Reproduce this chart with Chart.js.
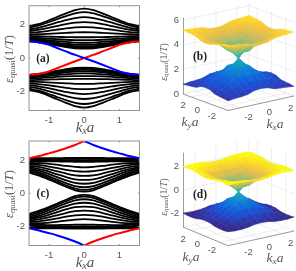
<!DOCTYPE html>
<html>
<head>
<meta charset="utf-8">
<script src="https://cdn.jsdelivr.net/npm/chart.js@4"></script>
<style>
  html, body { margin:0; padding:0; background:#fff; }
  body { width:296px; height:271px; position:relative; overflow:hidden; }
  .pane { position:absolute; }
  canvas { filter:blur(0.3px); }
  .t { position:absolute; color:#555; font-family:"Liberation Serif",serif; white-space:nowrap; transform:translate(-50%,-50%); line-height:1; }
  .t i { font-style:italic; }
  .t sub { font-size:68%; vertical-align:baseline; position:relative; top:0.2em; }
  .r { transform:translate(-50%,-50%) rotate(-90deg); }
  .tag { color:#222; font-weight:bold; font-size:11.5px; }
</style>
</head>
<body>
<div class="pane" style="left:0;top:0;width:148px;height:135px"><canvas id="a"></canvas></div>
<div class="pane" style="left:148px;top:0;width:148px;height:135px"><canvas id="b"></canvas></div>
<div class="pane" style="left:0;top:135px;width:148px;height:136px"><canvas id="c"></canvas></div>
<div class="pane" style="left:148px;top:135px;width:148px;height:136px"><canvas id="d"></canvas></div>

<div class="t r" style="left:9px;top:59px;font-size:12.5px"><i>ε</i><sub>quasi</sub>(1/<i>T</i>)</div>
<div class="t r" style="left:9px;top:194px;font-size:12.5px"><i>ε</i><sub>quasi</sub>(1/<i>T</i>)</div>
<div class="t r" style="left:164px;top:62px;font-size:9.8px"><i>ε</i><sub>quasi</sub>(1/<i>T</i>)</div>
<div class="t r" style="left:164px;top:197px;font-size:9.8px"><i>ε</i><sub>quasi</sub>(1/<i>T</i>)</div>
<div class="t" style="left:85px;top:127px;font-size:15px"><i>k<sub>x</sub>a</i></div>
<div class="t" style="left:85px;top:262px;font-size:15px"><i>k<sub>x</sub>a</i></div>
<div class="t" style="left:190px;top:122px;font-size:13.5px"><i>k<sub>y</sub>a</i></div>
<div class="t" style="left:275px;top:124px;font-size:13.5px"><i>k<sub>x</sub>a</i></div>
<div class="t" style="left:191px;top:257px;font-size:13.5px"><i>k<sub>y</sub>a</i></div>
<div class="t" style="left:275px;top:258px;font-size:13.5px"><i>k<sub>x</sub>a</i></div>
<div class="t tag" style="left:43px;top:59px">(a)</div>
<div class="t tag" style="left:200px;top:57px">(b)</div>
<div class="t tag" style="left:43px;top:194px">(c)</div>
<div class="t tag" style="left:200px;top:195px">(d)</div>

<script>
// ── Data ──
const kHalf = [0, 0.26, 0.52, 0.79, 1.05, 1.31, 1.57];

// upper half of the spectrum, lower half is its mirror
const bandsA = [
  [2.97, 2.88, 2.68, 2.45, 2.22, 2.03, 1.92],
  [2.75, 2.68, 2.52, 2.32, 2.12, 1.94, 1.82],
  [2.45, 2.40, 2.28, 2.12, 1.96, 1.81, 1.72],
  [2.16, 2.12, 2.03, 1.91, 1.79, 1.69, 1.62],
  [1.86, 1.84, 1.78, 1.70, 1.62, 1.56, 1.52],
  [1.55, 1.54, 1.51, 1.48, 1.45, 1.43, 1.42],
  [1.25, 1.25, 1.26, 1.27, 1.29, 1.31, 1.33],
  [1.08, 1.08, 1.10, 1.13, 1.17, 1.21, 1.25],
  [0.92, 0.93, 0.97, 1.02, 1.08, 1.13, 1.18],
  [0.80, 0.81, 0.86, 0.93, 1.01, 1.07, 1.12],
  [0.70, 0.72, 0.78, 0.86, 0.95, 1.02, 1.07],
  [0.62, 0.64, 0.71, 0.80, 0.90, 0.98, 1.03],
  [0.57, 0.59, 0.66, 0.76, 0.87, 0.95, 1.00],
];
const bandsC = [
  [2.13, 2.13, 2.12, 2.11, 2.11, 2.11, 2.10],
  [2.06, 2.06, 2.06, 2.05, 2.05, 2.04, 2.03],
  [1.98, 1.99, 1.99, 1.99, 1.98, 1.97, 1.96],
  [1.88, 1.89, 1.90, 1.91, 1.91, 1.90, 1.89],
  [1.55, 1.58, 1.64, 1.72, 1.78, 1.81, 1.81],
  [1.30, 1.33, 1.41, 1.52, 1.62, 1.70, 1.73],
  [1.05, 1.08, 1.19, 1.33, 1.47, 1.58, 1.65],
  [0.80, 0.84, 0.97, 1.15, 1.33, 1.47, 1.57],
  [0.57, 0.62, 0.78, 0.98, 1.19, 1.37, 1.49],
  [0.36, 0.43, 0.61, 0.83, 1.06, 1.27, 1.41],
  [0.20, 0.28, 0.48, 0.71, 0.95, 1.17, 1.33],
  [0.10, 0.18, 0.39, 0.63, 0.86, 1.07, 1.24],
];
// edge states, from k=0 outwards
const edgeA = [0, 0.19, 0.40, 0.62, 0.83, 0.95, 1.00];
const edgeC = [3.14, 2.90, 2.70, 2.52, 2.37, 2.22, 2.10];

const kxTicks = [-1, 0, 1];
const eTicks = [-2, 0, 2];

// surface height above the Dirac point, quarter of the zone (|kx| steps by |ky| steps)
const kStep = [0, 0.63, 1.26, 1.88, 2.51, 3.14];
const surfB = [
  [0.00, 0.60, 1.10, 1.45, 1.70, 1.80],
  [0.60, 0.62, 1.12, 1.48, 1.75, 1.85],
  [1.10, 1.12, 1.18, 1.52, 1.85, 2.05],
  [1.45, 1.48, 1.52, 1.62, 1.95, 2.12],
  [1.70, 1.75, 1.85, 1.95, 2.02, 2.15],
  [1.80, 1.85, 2.05, 2.12, 2.15, 2.22],
];
const surfD = [
  [0.00, 0.58, 1.05, 1.42, 1.72, 1.85],
  [0.58, 0.62, 1.08, 1.45, 1.75, 1.88],
  [1.05, 1.08, 1.15, 1.50, 1.85, 2.00],
  [1.42, 1.45, 1.50, 1.62, 1.92, 2.05],
  [1.72, 1.75, 1.85, 1.92, 2.00, 2.05],
  [1.85, 1.88, 2.00, 2.05, 2.05, 2.00],
];
const zTicksB = [0, 2, 4, 6];
const zTicksD = [-2, 0, 2];
const kTicks3d = [-2, 0, 2];

const parula = ['#352a87','#2a3fc4','#0f5cdd','#1481d6','#06a4ca','#2eb7a4','#87bf77','#d1bb59','#fec832','#f9fb0e'];

const TICK_FONT = { family:"'Liberation Sans'", size:9.5 };
const TICK_COLOR = '#555';
const FRAME = '#959595';
const GRID3D = '#e6e6e6';

// the chart area has to sit exactly where the frame is, so no auto padding from labels
const noMargins = s => { s.paddingTop = 0; s.paddingBottom = 0; s.paddingLeft = 0; s.paddingRight = 0; };

// ── 2D band panels ──
const kFull = [...kHalf.slice(1).reverse().map(k => -k), ...kHalf];
const evenRow = row => [...row.slice(1).reverse(), ...row];
const oddRow = row => [...row.slice(1).reverse().map(v => -v), ...row];

function curve(values, color, width) {
  return {
    data: kFull.map((x, i) => ({ x, y: values[i] })),
    borderColor: color, borderWidth: width, pointRadius: 0, showLine: true, fill: false, tension: 0.25,
  };
}

// MATLAB style box with ticks pointing inwards
const frameBox = {
  id: 'frameBox',
  afterDraw(chart) {
    const { ctx, chartArea: a, scales: { x, y } } = chart;
    ctx.save();
    ctx.strokeStyle = FRAME;
    ctx.lineWidth = 1;
    ctx.strokeRect(a.left, a.top, a.right - a.left, a.bottom - a.top);
    ctx.beginPath();
    kxTicks.forEach(t => {
      const p = x.getPixelForValue(t);
      ctx.moveTo(p, a.top); ctx.lineTo(p, a.top + 1.5);
      ctx.moveTo(p, a.bottom); ctx.lineTo(p, a.bottom - 1.5);
    });
    eTicks.forEach(t => {
      const p = y.getPixelForValue(t);
      ctx.moveTo(a.left, p); ctx.lineTo(a.left + 1.5, p);
      ctx.moveTo(a.right, p); ctx.lineTo(a.right - 1.5, p);
    });
    ctx.stroke();
    ctx.restore();
  }
};

function buildBands(id, datasets, top, bottom) {
  new Chart(document.getElementById(id), {
    type: 'scatter',
    data: { datasets },
    plugins: [frameBox],
    options: {
      animation: false, responsive: true, maintainAspectRatio: false,
      layout: { padding: { top, right: 8.5, left: 0, bottom: 0 } },
      plugins: { legend: { display: false }, tooltip: { enabled: false } },
      scales: {
        x: {
          type: 'linear', min: -1.57, max: 1.57,
          grid: { display: false, drawTicks: false }, border: { display: false },
          afterBuildTicks: s => { s.ticks = kxTicks.map(value => ({ value })); },
          afterFit: s => { s.height = bottom; noMargins(s); },
          ticks: { color: TICK_COLOR, font: TICK_FONT, padding: 4, maxRotation: 0 },
        },
        y: {
          min: -3.14, max: 3.14,
          grid: { display: false, drawTicks: false }, border: { display: false },
          afterBuildTicks: s => { s.ticks = eTicks.map(value => ({ value })); },
          afterFit: s => { s.width = 29; noMargins(s); },
          ticks: { color: TICK_COLOR, font: TICK_FONT, padding: 4 },
        },
      },
    },
  });
}

const flipBands = bands => bands.map(b => b.map(v => -v));
const blackLines = bands => bands.map(b => curve(evenRow(b), '#000', 1.8));

buildBands('a', [
  curve(oddRow(edgeA).map(v => -v), '#0000ff', 2),
  curve(oddRow(edgeA), '#ff0000', 2),
  ...blackLines(bandsA), ...blackLines(flipBands(bandsA)),
], 5.7, 24.5);

const colorArc = (vals, color, sideLeft) => ({
  data: kHalf.map((k, i) => ({ x: sideLeft ? -k : k, y: vals[i] })),
  borderColor: color, borderWidth: 2, pointRadius: 0, showLine: true, fill: false, tension: 0.25,
});
buildBands('c', [
  colorArc(edgeC, '#ff0000', true), colorArc(edgeC, '#0000ff', false),
  colorArc(edgeC.map(v => -v), '#0000ff', true), colorArc(edgeC.map(v => -v), '#ff0000', false),
  ...blackLines(bandsC), ...blackLines(flipBands(bandsC)),
], 6, 25.5);

// ── 3D surface panels, Chart.js scatter polygons on a flat projection ──
function hexRgb(h) { return [1, 3, 5].map(i => parseInt(h.slice(i, i + 2), 16)); }
function colormap(t) {
  const f = Math.min(0.9999, Math.max(0, t)) * (parula.length - 1);
  const i = Math.floor(f), c0 = hexRgb(parula[i]), c1 = hexRgb(parula[i + 1]);
  return `rgb(${c0.map((c, n) => Math.round(c + (c1[n] - c) * (f - i))).join(',')})`;
}

function buildSurface(id, surf, view) {
  const { left, front, right, zPx, zFloor, z0, zTop, zLow, zHigh, zTicks, height } = view;
  const K = 3.14;
  // x in pane pixels, y in z units shifted for the floor position
  const project = (kx, ky, z) => {
    const u = (kx + K) / (2 * K), v = (ky + K) / (2 * K);
    return {
      x: front[0] + u * (right[0] - front[0]) + v * (left[0] - front[0]),
      y: z + (front[1] - (front[1] + u * (right[1] - front[1]) + v * (left[1] - front[1]))) / zPx,
    };
  };
  const line = (pts, color, w) => ({
    data: pts, borderColor: color, borderWidth: w, pointRadius: 0, showLine: true, fill: false, tension: 0,
  });

  const back = [];
  zTicks.forEach(z => {
    back.push(line([project(-K, K, z), project(K, K, z), project(K, -K, z)], GRID3D, 0.7));
  });
  kTicks3d.forEach(t => {
    back.push(line([project(t, -K, zFloor), project(t, K, zFloor), project(t, K, zTop)], GRID3D, 0.7));
    back.push(line([project(-K, t, zFloor), project(K, t, zFloor), project(K, t, zTop)], GRID3D, 0.7));
  });
  back.push(line([project(-K, K, zFloor), project(K, K, zFloor), project(K, -K, zFloor)], GRID3D, 0.7));
  back.push(line([project(K, K, zFloor), project(K, K, zTop)], GRID3D, 0.7));
  const edges = [
    line([project(-K, K, zTop), project(-K, K, zFloor), project(-K, -K, zFloor), project(K, -K, zFloor)], '#8c8c8c', 0.9),
  ];

  const zone = [...kStep.slice(1).reverse().map(k => -k), ...kStep];
  const height3d = (i, j) => surf[Math.abs(i - 5)][Math.abs(j - 5)];

  const sheet = sign => {
    const quads = [];
    for (let i = 0; i < 10; i++) for (let j = 0; j < 10; j++) {
      const corners = [[i, j], [i + 1, j], [i + 1, j + 1], [i, j + 1]].map(([a, b]) => ({
        p: project(zone[a], zone[b], z0 + sign * height3d(a, b)),
        z: z0 + sign * height3d(a, b),
      }));
      const lo = corners.reduce((m, c) => (c.z < m.z ? c : m));
      const hi = corners.reduce((m, c) => (c.z > m.z ? c : m));
      const paint = c => {
        const { x, y } = c.chart.scales;
        const x0 = x.getPixelForValue(lo.p.x), y0 = y.getPixelForValue(lo.p.y);
        const x1 = x.getPixelForValue(hi.p.x), y1 = y.getPixelForValue(hi.p.y);
        if (![x0, y0, x1, y1].every(Number.isFinite)) return colormap(0.5);
        const g = c.chart.ctx.createLinearGradient(x0, y0, x1, y1);
        g.addColorStop(0, colormap((lo.z - zLow) / (zHigh - zLow)));
        g.addColorStop(1, colormap((hi.z - zLow) / (zHigh - zLow)));
        return g;
      };
      quads.push({
        depth: zone[i] + zone[j],
        data: [...corners.map(c => c.p), corners[0].p],
        backgroundColor: paint, borderColor: paint, borderWidth: 0.6,
        pointRadius: 0, showLine: true, fill: 'shape', tension: 0,
      });
    }
    // first dataset is painted last, so nearest quads go first
    return quads.sort((m, n) => m.depth - n.depth);
  };

  const kLabels = {
    id: 'kLabels',
    afterDraw(chart) {
      const { ctx, scales: { x, y } } = chart;
      ctx.save();
      ctx.font = "9.5px 'Liberation Sans'";
      ctx.fillStyle = TICK_COLOR;
      ctx.textAlign = 'center';
      ctx.textBaseline = 'middle';
      kTicks3d.forEach(t => {
        const p = project(t, -K, zFloor), q = project(-K, t, zFloor);
        ctx.fillText(String(t), x.getPixelForValue(p.x) + 8.5, y.getPixelForValue(p.y) + 9.5);
        ctx.fillText(String(t), x.getPixelForValue(q.x) - 8, y.getPixelForValue(q.y) + 8.5);
      });
      ctx.restore();
    }
  };

  // the z axis stands on the left floor corner, not on the front one
  const zShift = (front[1] - left[1]) / zPx;

  new Chart(document.getElementById(id), {
    type: 'scatter',
    data: { datasets: [...sheet(1), ...sheet(-1), ...edges, ...back] },
    plugins: [kLabels],
    options: {
      animation: false, responsive: true, maintainAspectRatio: false,
      layout: { padding: 0 },
      plugins: { legend: { display: false }, tooltip: { enabled: false } },
      scales: {
        x: { type: 'linear', display: false, min: left[0], max: 148 },
        y: {
          // one z unit is zPx pixels, floor front corner sits at front[1]
          min: zFloor - (height - front[1]) / zPx,
          max: zFloor + front[1] / zPx,
          grid: { display: false, drawTicks: false }, border: { display: false },
          afterBuildTicks: s => { s.ticks = zTicks.map(z => ({ value: z + zShift })); },
          afterFit: s => { s.width = left[0]; noMargins(s); },
          ticks: { color: TICK_COLOR, font: TICK_FONT, padding: 4, callback: v => String(Math.round(v - zShift)) },
        },
      },
    },
  });
}

buildSurface('b', surfB, {
  left: [35, 94], front: [80, 110.5], right: [146, 96],
  zPx: 12.3, zFloor: 0, zTop: 6.2, z0: 3, zLow: 0.5, zHigh: 5.5, zTicks: zTicksB, height: 135,
});
buildSurface('d', surfD, {
  left: [35, 92], front: [80, 110.7], right: [146, 96],
  zPx: 11.6, zFloor: -3.2, zTop: 3.2, z0: 0, zLow: -2, zHigh: 2, zTicks: zTicksD, height: 136,
});
</script>
</body>
</html>
